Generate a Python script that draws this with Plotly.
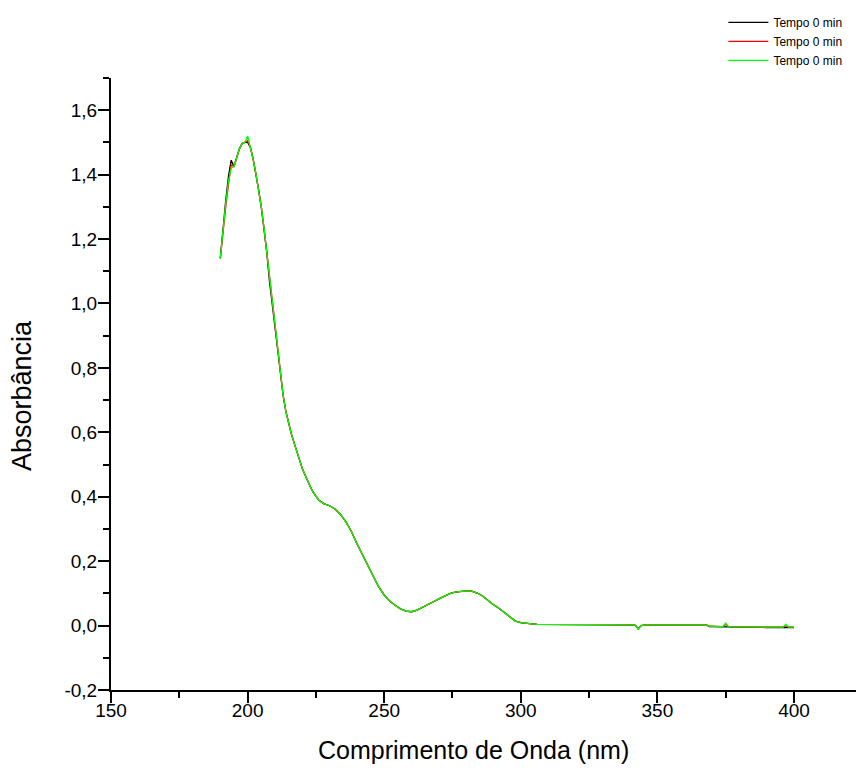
import plotly.graph_objects as go

wavelength = [190, 191, 192, 193, 194, 195, 196, 197, 198, 199, 200, 201, 202, 203, 204,
              205, 206, 207, 208, 209, 210, 211, 212, 213, 214, 215, 216, 217, 218, 219,
              220, 221, 222, 223, 224, 225, 226, 228, 230, 232, 234, 236, 238, 240, 242,
              244, 246, 248, 250, 252, 254, 256, 258, 260, 262, 264, 266, 268, 270, 272,
              274, 276, 278, 280, 282, 284, 286, 288, 290, 292, 294, 296, 298, 300, 302,
              304, 306, 310, 320, 330, 340, 342, 343, 344, 346, 360, 368, 369, 374, 375,
              376, 380, 390, 396, 397, 398, 400]

abs_black = [1.140, 1.240, 1.320, 1.395, 1.445, 1.425, 1.455, 1.480, 1.497, 1.500, 1.500, 1.485, 1.450, 1.405, 1.355,
             1.300, 1.235, 1.160, 1.070, 0.995, 0.920, 0.855, 0.785, 0.715, 0.665, 0.625, 0.595, 0.568, 0.540, 0.512,
             0.488, 0.468, 0.448, 0.430, 0.414, 0.400, 0.390, 0.378, 0.372, 0.362, 0.345, 0.322, 0.292, 0.255, 0.220,
             0.185, 0.150, 0.120, 0.095, 0.076, 0.063, 0.052, 0.045, 0.043, 0.048, 0.056, 0.065, 0.074, 0.083, 0.092,
             0.099, 0.104, 0.107, 0.108, 0.107, 0.101, 0.092, 0.077, 0.065, 0.054, 0.040, 0.026, 0.014, 0.009, 0.006,
             0.005, 0.004, 0.004, 0.003, 0.003, 0.002, 0.001, -0.010, 0.000, 0.002, 0.002, 0.002, -0.003, -0.004, -0.004,
             -0.004, -0.005, -0.006, -0.006, -0.005, -0.006, -0.006]

abs_red = [1.140, 1.230, 1.300, 1.370, 1.430, 1.425, 1.455, 1.480, 1.497, 1.500, 1.505, 1.485, 1.450, 1.405, 1.355,
           1.300, 1.235, 1.160, 1.070, 0.995, 0.920, 0.855, 0.785, 0.715, 0.665, 0.625, 0.595, 0.568, 0.540, 0.512,
           0.488, 0.468, 0.448, 0.430, 0.414, 0.400, 0.390, 0.378, 0.372, 0.362, 0.345, 0.322, 0.292, 0.255, 0.220,
           0.185, 0.150, 0.120, 0.095, 0.076, 0.063, 0.052, 0.045, 0.043, 0.048, 0.056, 0.065, 0.074, 0.083, 0.092,
           0.099, 0.104, 0.107, 0.108, 0.107, 0.101, 0.092, 0.077, 0.065, 0.054, 0.040, 0.026, 0.014, 0.009, 0.006,
           0.005, 0.004, 0.004, 0.003, 0.003, 0.002, 0.001, -0.011, 0.000, 0.002, 0.002, 0.002, -0.002, -0.003, 0.004,
           -0.003, -0.004, -0.005, -0.005, 0.000, -0.005, -0.005]

abs_green = [1.140, 1.235, 1.310, 1.380, 1.420, 1.425, 1.455, 1.480, 1.497, 1.500, 1.520, 1.485, 1.450, 1.405, 1.355,
             1.300, 1.235, 1.160, 1.070, 0.995, 0.920, 0.855, 0.785, 0.715, 0.665, 0.625, 0.595, 0.568, 0.540, 0.512,
             0.488, 0.468, 0.448, 0.430, 0.414, 0.400, 0.390, 0.378, 0.372, 0.362, 0.345, 0.322, 0.292, 0.255, 0.220,
             0.185, 0.150, 0.120, 0.095, 0.076, 0.063, 0.052, 0.045, 0.043, 0.048, 0.056, 0.065, 0.074, 0.083, 0.092,
             0.099, 0.104, 0.107, 0.108, 0.107, 0.101, 0.092, 0.077, 0.065, 0.054, 0.040, 0.026, 0.014, 0.009, 0.006,
             0.005, 0.004, 0.004, 0.003, 0.003, 0.002, 0.001, -0.012, 0.000, 0.002, 0.002, 0.002, -0.002, -0.003, 0.008,
             -0.003, -0.004, -0.005, -0.005, 0.004, -0.005, -0.005]

series_names = ["Tempo 0 min", "Tempo 0 min", "Tempo 0 min"]
series_colors = ["#000000", "#ff0000", "#00ff00"]

x_tick_vals = [150, 200, 250, 300, 350, 400]
x_tick_text = ["150", "200", "250", "300", "350", "400"]
y_tick_vals = [-0.2, 0.0, 0.2, 0.4, 0.6, 0.8, 1.0, 1.2, 1.4, 1.6]
y_tick_text = ["-0,2", "0,0", "0,2", "0,4", "0,6", "0,8", "1,0", "1,2", "1,4", "1,6"]

x_title = "Comprimento de Onda (nm)"
y_title = "Absorbância"

FONT = "Liberation Sans, Arial, sans-serif"

fig = go.Figure()
for ys, name, color in zip([abs_black, abs_red, abs_green], series_names, series_colors):
    fig.add_trace(go.Scatter(x=wavelength, y=ys, mode="lines", name=name,
                             line=dict(color=color, width=1.3)))

axis_common = dict(showline=True, linecolor="black", linewidth=2, showgrid=False, zeroline=False,
                   ticks="outside", ticklen=11, tickwidth=2, tickcolor="black",
                   tickfont=dict(family=FONT, size=19, color="black"))

fig.update_layout(
    width=856, height=776,
    margin=dict(l=111, r=0, t=78, b=86),
    paper_bgcolor="white", plot_bgcolor="white",
    font=dict(family=FONT, color="black"),
    showlegend=True,
    legend=dict(x=0.822, y=1.1145, xanchor="left", yanchor="top", bgcolor="rgba(0,0,0,0)",
                font=dict(family=FONT, size=12, color="black"), tracegroupgap=0, itemwidth=40),
    xaxis=dict(range=[150, 422.7], tickmode="array", tickvals=x_tick_vals, ticktext=x_tick_text,
               ticklabelstandoff=-9,
               minor=dict(ticks="outside", ticklen=6, tickwidth=2, tickcolor="black",
                          tickmode="linear", tick0=150, dtick=25),
               **axis_common),
    yaxis=dict(range=[-0.2, 1.7], tickmode="array", tickvals=y_tick_vals, ticktext=y_tick_text,
               ticklabelstandoff=-3,
               minor=dict(ticks="outside", ticklen=6, tickwidth=2, tickcolor="black",
                          tickmode="linear", tick0=0, dtick=0.1),
               **axis_common),
    annotations=[
        dict(text=x_title, xref="paper", yref="paper", x=(473 - 111) / 745, y=(690 - 750) / 612,
             xanchor="center", yanchor="middle", showarrow=False,
             font=dict(family=FONT, size=25, color="black")),
        dict(text=y_title, xref="paper", yref="paper", x=(22 - 111) / 745, y=(690 - 396) / 612,
             xanchor="center", yanchor="middle", showarrow=False, textangle=-90,
             font=dict(family=FONT, size=27, color="black")),
    ],
)

fig.write_html("out.html")
